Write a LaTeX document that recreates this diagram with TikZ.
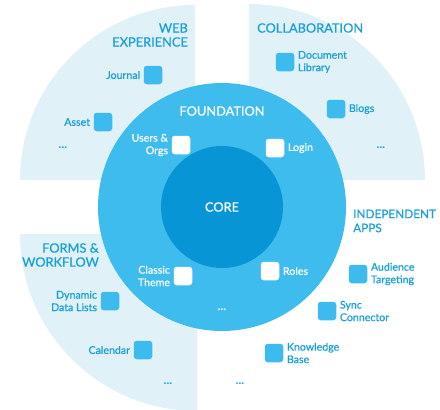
\documentclass[tikz,border=0pt]{standalone}
\usepackage{fontspec}
\setmainfont{Lato}
\newfontfamily\lblfont{Lato}[FakeBold=0.6]
\usetikzlibrary{positioning}

\definecolor{corecol}{HTML}{0895D6}
\definecolor{foundcol}{HTML}{3FBCEE}
\definecolor{appcol}{HTML}{3DBAEE}
\definecolor{bgcol}{HTML}{E0F2F8}
\definecolor{textcol}{HTML}{179FDA}

\begin{document}
\begin{tikzpicture}[x=1pt, y=-1pt,
  app node/.style={rounded corners=3pt, fill=appcol, minimum size=18.5pt, inner sep=0pt, label distance=2.5pt},
  base node/.style={app node, fill=white},
  item/.style={font=\lblfont\fontsize{10.6}{12.5}\selectfont, text=textcol},
  base item/.style={item, text=white},
  title/.style={font=\lblfont\fontsize{12.8}{14}\selectfont, text=textcol, inner sep=0pt},
  more/.style={font=\fontsize{12}{12}\selectfont\bfseries, text=textcol, inner sep=0pt}]

\useasboundingbox (0,0) rectangle (440,410);
\clip (0,0) rectangle (440,410);

% light quarters
\fill[bgcol] (195,180) -- (20,180) arc[start angle=180, end angle=270, radius=175] -- cycle;
\fill[bgcol] (249,180) -- (249,4) arc[start angle=270, end angle=360, radius=176] -- cycle;
\fill[bgcol] (197,234) -- (20,234) arc[start angle=180, end angle=90, radius=177] -- cycle;

% rings
\node[circle, fill=foundcol, minimum size=248pt, inner sep=0pt] (foundation) at (222,207) {};
\node[circle, fill=corecol, minimum size=122pt, inner sep=0pt, text=white,
      font=\lblfont\fontsize{12.8}{14}\selectfont] (core) at (222,207) {CORE};
\node[title, text=white] (foundtitle) at (222,111) {FOUNDATION};

% web experience
\node[title, anchor=east, align=right] (webtitle) at (188,35) {WEB\\EXPERIENCE};
\node[app node, label={[item]left:Journal}] (journal) at (153,75) {};
\node[app node, label={[item]left:Asset}] (asset) at (103,122) {};
\node[more] (webmore) at (63,148) {...};

% collaboration
\node[title, anchor=west] (collabtitle) at (257,28) {COLLABORATION};
\node[app node, label={[item, align=left]right:Document\\Library}] (doclib) at (285,62) {};
\node[app node, label={[item]right:Blogs}] (blogs) at (336,109) {};
\node[more] (collabmore) at (381,148) {...};

% foundation
\node[base node, label={[base item, align=right]left:Users \&\\Orgs}] (users) at (181,145) {};
\node[base node, label={[base item]right:Login}] (login) at (275,148) {};
\node[base node, label={[base item, align=right]left:Classic\\Theme}] (theme) at (183,276) {};
\node[base node, label={[base item]right:Roles}] (roles) at (270,271) {};
\node[more, text=white] (foundmore) at (222,310) {...};

% forms & workflow
\node[title, anchor=east, align=right] (formstitle) at (99,255) {FORMS \&\\WORKFLOW};
\node[app node, label={[item, align=right]left:Dynamic\\Data Lists}] (ddl) at (110,301) {};
\node[app node, label={[item]left:Calendar}] (calendar) at (143,350) {};
\node[more] (formsmore) at (168,384) {...};

% independent apps
\node[title, anchor=west, align=left, font=\lblfont\fontsize{11.8}{14}\selectfont] (indtitle) at (353,221) {INDEPENDENT\\APPS};
\node[app node, label={[item, align=left]right:Audience\\Targeting}] (audience) at (358,274) {};
\node[app node, label={[item, align=left]right:Sync\\Connector}] (sync) at (327,311) {};
\node[app node, label={[item, align=left]right:Knowledge\\Base}] (kbase) at (274,353) {};
\node[more] (indmore) at (240,384) {...};

\end{tikzpicture}
\end{document}
